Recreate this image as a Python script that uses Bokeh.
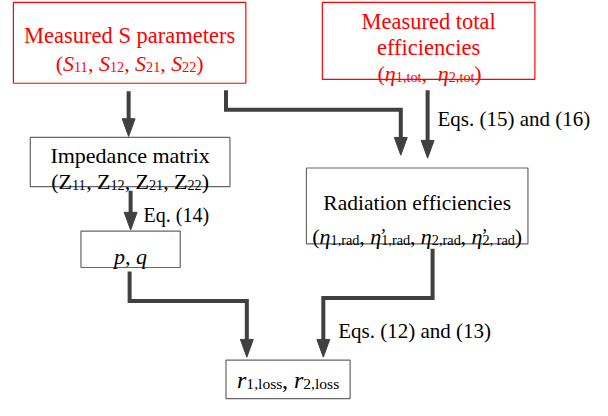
from bokeh.plotting import figure
from bokeh.models import Range1d
from bokeh.core.properties import value
from bokeh.embed import file_html
from bokeh.resources import INLINE

FONT = "Liberation Serif"
RED = "#ff0000"
BLACK = "#000000"
ARROW = "#404040"

# ---- boxes (image pixel coordinates) ----
BOX_LEFT = [15, 326, 32, 83, 310, 229]
BOX_RIGHT = [249, 540, 233, 183, 533, 354]
BOX_TOP = [5, 5, 142, 237, 173, 368]
BOX_BOTTOM = [87, 83, 192, 274, 250, 407]
BOX_LINE = [RED, RED, "#666666", "#666666", "#666666", "#666666"]

# ---- connectors (last point = arrow tip) ----
CONN_X = [[131, 131], [229, 229, 405, 405], [432, 432], [133, 133],
          [132, 132, 250, 250], [437, 437, 327, 327]]
CONN_Y = [[95, 141], [94, 114, 114, 160], [94, 163], [196, 236],
          [278, 308, 308, 365], [255, 305, 305, 365]]

# ---- plain text lines ----
PLAIN_TEXT = ["Measured S parameters", "Measured total", "efficiencies",
              "Impedance matrix", "p, q", "Radiation efficiencies",
              "Eq. (14)", "Eqs. (15) and (16)", "Eqs. (12) and (13)"]
PLAIN_X = [132, 433, 433, 132.5, 133, 421.5, 146, 442, 342]
PLAIN_Y = [39, 24, 51, 160, 263, 209, 221, 123, 338]
PLAIN_SIZE = [22.5, 22.5, 22.5, 22, 22, 21.5, 20, 21, 21]
PLAIN_COLOR = [RED, RED, RED, BLACK, BLACK, BLACK, BLACK, BLACK, BLACK]
PLAIN_ALIGN = ["center"] * 6 + ["left"] * 3
PLAIN_STYLE = ["normal"] * 4 + ["italic"] + ["normal"] * 4

# ---- rich text lines: segments (text, position n=normal/b=subscript/p=prime, style r/i) ----
RICH_S = [("(", "n", "r"), ("S", "n", "i"), ("11", "b", "r"), (", ", "n", "r"),
          ("S", "n", "i"), ("12", "b", "r"), (", ", "n", "r"),
          ("S", "n", "i"), ("21", "b", "r"), (", ", "n", "r"),
          ("S", "n", "i"), ("22", "b", "r"), (")", "n", "r")]
RICH_TOT = [("(", "n", "r"), ("η", "n", "i"), ("1,tot", "b", "r"), (" , ", "n", "r"),
            ("η", "n", "i"), ("2,tot", "b", "r"), (")", "n", "r")]
RICH_Z = [("(", "n", "r"), ("Z", "n", "r"), ("11", "b", "r"), (", ", "n", "r"),
          ("Z", "n", "r"), ("12", "b", "r"), (", ", "n", "r"),
          ("Z", "n", "r"), ("21", "b", "r"), (", ", "n", "r"),
          ("Z", "n", "r"), ("22", "b", "r"), (")", "n", "r")]
RICH_RAD = [("(", "n", "r"), ("η", "n", "i"), ("1,rad", "b", "r"), (", ", "n", "r"),
            ("η", "n", "i"), ("’", "p", "r"), ("1,rad", "b", "r"), (", ", "n", "r"),
            ("η", "n", "i"), ("2,rad", "b", "r"), (", ", "n", "r"),
            ("η", "n", "i"), ("’", "p", "r"), ("2, rad", "b", "r"), (")", "n", "r")]
RICH_R = [("r", "n", "i"), ("1,loss", "b", "r"), (", ", "n", "r"),
          ("r", "n", "i"), ("2,loss", "b", "r")]
RICH_LINES = [RICH_S, RICH_TOT, RICH_Z, RICH_RAD, RICH_R]
RICH_X = [132, 434, 132.5, 421.5, 291.5]
RICH_Y = [67, 77, 187, 243, 388]
RICH_SIZE = [22, 22, 22, 22, 24]
RICH_COLOR = [RED, RED, BLACK, BLACK, BLACK]
SUB_RATIO = 0.65

REG_W = {' ': 250, '(': 333, ')': 333, ',': 250, '.': 250, '’': 333,
         'a': 444, 'd': 500, 'l': 278, 'o': 500, 's': 389, 't': 278, 'r': 333,
         'Z': 611, 'S': 556}
ITA_W = {'S': 500, 'r': 389, 'η': 500, 'p': 500, 'q': 500}


def seg_width(t, st, size):
    tab = ITA_W if st == "i" else REG_W
    return sum(tab.get(c, 500) for c in t) / 1000.0 * size


p = figure(width=592, height=400, output_backend="svg", toolbar_location=None,
           x_range=Range1d(2, 598), y_range=Range1d(409, 3),
           x_axis_location=None, y_axis_location=None, min_border=0)
p.grid.visible = False
p.outline_line_color = None
p.background_fill_color = "white"

p.quad(left=BOX_LEFT, right=BOX_RIGHT, top=BOX_TOP, bottom=BOX_BOTTOM,
       fill_color=None, line_color=BOX_LINE, line_width=1.2)

# connectors
HEAD_LEN, HEAD_HALF = 18, 6.5
for xs, ys in zip(CONN_X, CONN_Y):
    sx = list(xs)
    sy = list(ys)
    sy[-1] = ys[-1] - HEAD_LEN + 2
    p.line(sx, sy, line_color=ARROW, line_width=4, line_join="miter")
    tx, ty = xs[-1], ys[-1]
    p.patch([tx - HEAD_HALF, tx + HEAD_HALF, tx], [ty - HEAD_LEN, ty - HEAD_LEN, ty],
            fill_color=ARROW, line_color=ARROW, line_width=1)

# plain texts
for t, x, y, s, c, a, st in zip(PLAIN_TEXT, PLAIN_X, PLAIN_Y, PLAIN_SIZE,
                                PLAIN_COLOR, PLAIN_ALIGN, PLAIN_STYLE):
    p.text(x=[x], y=[y], text=[t], text_font=value(FONT), text_font_size=f"{s}px",
           text_color=c, text_align=a, text_baseline="alphabetic", text_font_style=st)

# rich texts
for segs, cx, y, size, c in zip(RICH_LINES, RICH_X, RICH_Y, RICH_SIZE, RICH_COLOR):
    sub = size * SUB_RATIO
    total = 0
    for t, pos, st in segs:
        if pos == "n":
            total += seg_width(t, st, size)
        elif pos == "b":
            total += seg_width(t, st, sub)
    x = cx - total / 2
    for t, pos, st in segs:
        if pos == "n":
            fs, yy, xx = size, y, x
        elif pos == "b":
            fs, yy, xx = sub, y + size * 0.16, x
        else:
            fs, yy, xx = size * 0.85, y - size * 0.05, x - 1
        p.text(x=[xx], y=[yy], text=[t], text_font=value(FONT),
               text_font_size=f"{fs:.1f}px", text_color=c, text_align="left",
               text_baseline="alphabetic",
               text_font_style="italic" if st == "i" else "normal")
        if pos == "n":
            x += seg_width(t, st, size)
        elif pos == "b":
            x += seg_width(t, st, sub)

open("out.html", "w").write(file_html(p, INLINE))
